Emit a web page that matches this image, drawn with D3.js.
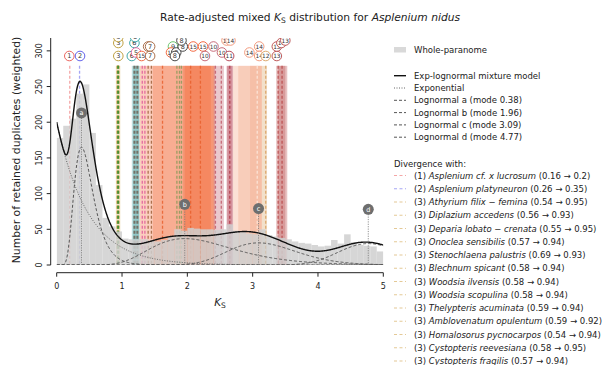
<!DOCTYPE html>
<html><head><meta charset="utf-8">
<script src="https://cdn.jsdelivr.net/npm/d3@7"></script>
<style>body{margin:0;background:#fff;} text{font-family:"DejaVu Sans",sans-serif;}</style>
</head><body>
<script>
// ---------------- DATA ----------------
// Whole-paranome histogram, bins of 0.1 Ks from 0 to 5
const binWidth = 0.1;
const histCounts = [178,195,205,240,253,185,112,66,54,47,
                    37,36,36,36,34,33,35,40,50,48,
                    52,51,50,50,49,50,57,48,46,44,
                    43,50,42,40,38,36,33,31,30,28,
                    26,27,35,30,43,32,28,27,26,19];
// Exp-lognormal mixture model components
const expStart = 200, expRate = 2.1;
const compNames = ["a","b","c","d"];
const compModes = [0.38, 1.96, 3.09, 4.77];
const compPeaks = [165, 37, 31, 30];
const compSigmas = [0.38, 0.32, 0.17, 0.10];
// Divergences listed in the legend
const divNodes = [1,2,3,3,3,3,3,3,3,3,3,3,3,3,3];
const divSpecies = ["Asplenium cf.  x lucrosum","Asplenium platyneuron","Athyrium filix \u2212 femina","Diplazium accedens",
  "Deparia lobato \u2212 crenata","Onoclea sensibilis","Stenochlaena palustris","Blechnum spicant","Woodsia ilvensis",
  "Woodsia scopulina","Thelypteris acuminata","Amblovenatum opulentum","Homalosorus pycnocarpos","Cystopteris reevesiana","Cystopteris fragilis"];
const divKsOrig = [0.16,0.26,0.54,0.56,0.55,0.57,0.69,0.58,0.58,0.58,0.59,0.59,0.54,0.58,0.57];
const divKsAdj  = [0.2,0.35,0.95,0.93,0.95,0.94,0.93,0.94,0.94,0.94,0.94,0.92,0.94,0.95,0.94];
// Other divergence nodes: shaded ranges
const bandNodes = [3,6,6,15,15,15,15,10,11,11,14,14,14,12,13,13];
const bandLo = [0.905,1.15,1.17,1.27,1.47,1.93,1.96,2.40,2.60,2.61,2.70,2.78,2.96,3.14,3.36,3.39];
const bandHi = [0.975,1.27,1.26,2.42,2.42,2.40,2.36,2.56,2.70,2.69,3.14,3.14,3.14,3.22,3.53,3.50];
// Other divergence nodes: dashed lines
const lineNodes = [4,6,6,5,5,7,7,15,8,8,8,15,15,10,10,11,14,12,13,13];
const lineKs = [0.94,1.19,1.235,1.31,1.35,1.40,1.45,1.62,1.84,1.88,1.91,2.05,2.20,2.43,2.52,2.65,3.07,3.20,3.39,3.45];
// Circled node labels
const labelNodes = [1,2,3,3,3,6,6,6,5,15,7,7,7,9,15,8,8,8,8,15,15,10,10,10,14,14,11,14,14,14,12,13,13,13,13];
const labelKs    = [0.193,0.357,0.943,0.943,0.943,1.15,1.19,1.20,1.215,1.30,1.40,1.43,1.43,1.78,1.75,1.83,1.81,1.93,1.91,2.09,2.24,2.27,2.40,2.53,2.60,2.66,2.64,2.95,3.10,3.10,3.20,3.37,3.37,3.44,3.50];
const labelTier  = [0,0,0,3,5,0,3,5,1,0,2,2,0,2,1,1,0,2,4,2,2,0,2,1,4,4,0,1,2,0,0,0,2,3,4];
const labelText  = labelNodes.map(String);
// Axis ticks
const xTicks = [0,1,2,3,4,5];
const yTicks = [0,50,100,150,200,250,300];

// ---------------- STYLE ----------------
const nodeColor = {1:"#f08080",2:"#7f7ff0",3:"#d9b26a",4:"#2e8b2e",5:"#e05a9a",6:"#3a9e9e",7:"#a0603a",8:"#8c9a5a",
  9:"#5cbf5c",10:"#c05a6a",11:"#b03848",12:"#d8a060",13:"#b84848",14:"#f4a582",15:"#f46a3a"};
const lineColor = Object.assign({}, nodeColor, {6:"#6e6255",14:"#fde8dc",15:"#e8602e"});
const labelColor = Object.assign({}, nodeColor, {1:"#e8554e",2:"#5050e8",3:"#b8962e",6:"#2a9d9d",8:"#333333",14:"#f09070",15:"#f05a30"});
const tierY = [56,52.5,46.5,43,40.5,37];

const W=611,H=365;
const svg=d3.select("body").append("svg").attr("width",W).attr("height",H);
svg.append("rect").attr("width",W).attr("height",H).attr("fill","#fff");
const x=d3.scaleLinear().domain([0,5]).range([56.7,383.3]);
const y=d3.scaleLinear().domain([0,318]).range([265,38]);
svg.append("defs").append("clipPath").attr("id","pc").append("rect")
  .attr("x",x(0)).attr("y",y(318)).attr("width",x(5)-x(0)).attr("height",y(0)-y(318));
const g=svg.append("g").attr("clip-path","url(#pc)");
const bandTop=279;

// bands
g.selectAll("rect.band").data(d3.range(bandNodes.length)).join("rect")
  .attr("x",i=>x(bandLo[i])).attr("width",i=>x(bandHi[i])-x(bandLo[i]))
  .attr("y",y(bandTop)).attr("height",y(0)-y(bandTop))
  .attr("fill",i=>nodeColor[bandNodes[i]]).attr("fill-opacity",0.33);
// legend divergence lines
g.selectAll("line.div").data(d3.range(divNodes.length)).join("line")
  .attr("x1",i=>x(divKsAdj[i])).attr("x2",i=>x(divKsAdj[i]))
  .attr("y1",y(bandTop)).attr("y2",y(0))
  .attr("stroke",i=>nodeColor[divNodes[i]]).attr("stroke-opacity",0.7)
  .attr("stroke-width",1.3).attr("stroke-dasharray","3,2");
g.selectAll("line.ext").data(d3.range(lineNodes.length)).join("line")
  .attr("x1",i=>x(lineKs[i])).attr("x2",i=>x(lineKs[i]))
  .attr("y1",y(bandTop)).attr("y2",y(0))
  .attr("stroke",i=>lineColor[lineNodes[i]]).attr("stroke-opacity",0.85)
  .attr("stroke-width",i=>lineNodes[i]===6||lineNodes[i]===4?2:1.3).attr("stroke-dasharray","3,2");
// histogram
g.selectAll("rect.bar").data(histCounts).join("rect")
  .attr("x",(d,i)=>x(i*binWidth)).attr("width",(d,i)=>x((i+1)*binWidth)-x(i*binWidth))
  .attr("y",d=>y(d)).attr("height",d=>y(0)-y(d))
  .attr("fill","#cfcfcf").attr("fill-opacity",0.85);
// model
function logn(k,i){ if(k<=0) return 0; const s2=compSigmas[i]*compSigmas[i], m=compModes[i], mu=Math.log(m)+s2;
  const dl=Math.log(k)-mu; return compPeaks[i]*(m/k)*Math.exp(-(dl*dl - s2*s2)/(2*s2)); }
function expo(k){ return expStart*Math.exp(-expRate*k); }
const grid=d3.range(0,5.0001,0.01);
const line=d3.line().x(d=>x(d[0])).y(d=>y(d[1]));
g.append("path").attr("d",line(grid.map(k=>[k,expo(k)]))).attr("fill","none")
  .attr("stroke","#666").attr("stroke-width",1).attr("stroke-dasharray","1,1.5");
compModes.forEach((m,i)=>{
  g.append("path").attr("d",line(grid.map(k=>[k,logn(k,i)]))).attr("fill","none")
   .attr("stroke","#555").attr("stroke-width",1).attr("stroke-dasharray","3,2");
});
g.append("path").attr("d",line(grid.map(k=>[k,expo(k)+compModes.reduce((s,_,i)=>s+logn(k,i),0)])))
  .attr("fill","none").attr("stroke","#111").attr("stroke-width",1.4);
// component markers
compModes.forEach((m,i)=>{
  const v=compPeaks[i]+48;
  g.append("line").attr("x1",x(m)).attr("x2",x(m)).attr("y1",y(v)).attr("y2",y(0))
   .attr("stroke","#777").attr("stroke-width",0.8).attr("stroke-dasharray","1.2,1.2");
  g.append("circle").attr("cx",x(m)).attr("cy",y(v)).attr("r",5.5).attr("fill","#6e6e6e");
  g.append("text").attr("x",x(m)).attr("y",y(v)+2.4).attr("text-anchor","middle")
   .attr("font-size",6.5).attr("fill","#fff").text(compNames[i]);
});
// node labels
labelNodes.forEach((n,i)=>{
  const cx=x(labelKs[i]), cy=tierY[labelTier[i]];
  g.append("circle").attr("cx",cx).attr("cy",cy).attr("r",4.8).attr("fill","#fff")
   .attr("stroke",labelColor[n]).attr("stroke-width",0.9);
  g.append("text").attr("x",cx).attr("y",cy+2.3).attr("text-anchor","middle")
   .attr("font-size",n>9?5.8:6.5).attr("fill","#333").text(labelText[i]);
});

// axes
const ax=svg.append("g").attr("stroke","#222").attr("stroke-width",1);
ax.append("line").attr("x1",50.7).attr("x2",50.7).attr("y1",y(318)).attr("y2",y(0));
yTicks.forEach(t=>{
  ax.append("line").attr("x1",46.7).attr("x2",50.7).attr("y1",y(t)).attr("y2",y(t));
  svg.append("text").attr("transform",`translate(42,${y(t)}) rotate(-90)`).attr("text-anchor","middle")
    .attr("font-size",8).attr("fill","#222").text(t);
});
ax.append("line").attr("x1",x(0)).attr("x2",x(5)).attr("y1",272.7).attr("y2",272.7);
xTicks.forEach(t=>{
  ax.append("line").attr("x1",x(t)).attr("x2",x(t)).attr("y1",272.7).attr("y2",276.7);
  svg.append("text").attr("x",x(t)).attr("y",289).attr("text-anchor","middle")
    .attr("font-size",8).attr("fill","#222").text(t);
});
const xl=svg.append("text").attr("x",220).attr("y",306).attr("text-anchor","middle").attr("font-size",10.5).attr("fill","#222");
xl.append("tspan").attr("font-style","italic").text("K");
xl.append("tspan").attr("font-size",7.5).attr("dy",2).text("S");
svg.append("text").attr("transform","translate(19.5,150) rotate(-90)").attr("text-anchor","middle")
  .attr("font-size",10.8).attr("fill","#222").text("Number of retained duplicates (weighted)");
// title
const tt=svg.append("text").attr("x",310).attr("y",21).attr("text-anchor","middle").attr("font-size",10.7).attr("fill","#222");
tt.append("tspan").text("Rate-adjusted mixed ");
tt.append("tspan").attr("font-style","italic").text("K");
tt.append("tspan").attr("font-size",7.5).attr("dy",2).text("S");
tt.append("tspan").attr("dy",-2).text(" distribution for ");
tt.append("tspan").attr("font-style","italic").text("Asplenium nidus");

// legend
const lg=svg.append("g");
const lx=394, tx=414, fs=8.5;
lg.append("rect").attr("x",lx).attr("y",47).attr("width",12).attr("height",5.5).attr("fill","#d9d9d9");
lg.append("text").attr("x",tx).attr("y",53).attr("font-size",fs).attr("fill","#222").text("Whole-paranome");
const modelItems=[["Exp-lognormal mixture model","#111",null,1.4],["Exponential","#666","1,1.5",1]]
  .concat(compNames.map((c,i)=>[`Lognormal ${c} (mode ${compModes[i]})`,"#555","3,2",1]));
modelItems.forEach((it,i)=>{
  const yy=75.7+12.3*i;
  lg.append("line").attr("x1",lx).attr("x2",lx+12).attr("y1",yy).attr("y2",yy).attr("stroke",it[1])
    .attr("stroke-width",it[3]).attr("stroke-dasharray",it[2]);
  lg.append("text").attr("x",tx).attr("y",yy+3).attr("font-size",fs).attr("fill","#222").text(it[0]);
});
lg.append("text").attr("x",lx).attr("y",167).attr("font-size",fs).attr("fill","#222").text("Divergence with:");
divNodes.forEach((n,i)=>{
  const yy=175.5+13.25*i;
  lg.append("line").attr("x1",lx).attr("x2",lx+12).attr("y1",yy).attr("y2",yy).attr("stroke",nodeColor[n])
    .attr("stroke-opacity",0.7).attr("stroke-width",1.2).attr("stroke-dasharray","3,2.5");
  const t=lg.append("text").attr("x",tx).attr("y",yy+3).attr("font-size",fs).attr("fill","#222");
  t.append("tspan").text(`(${n}) `);
  t.append("tspan").attr("font-style","italic").text(divSpecies[i]);
  t.append("tspan").text(` (${divKsOrig[i]} \u2192 ${divKsAdj[i]})`);
});
</script></body></html>
